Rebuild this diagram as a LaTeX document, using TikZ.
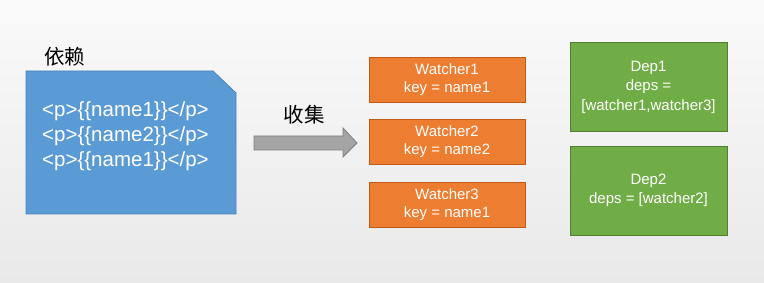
\documentclass[tikz,border=0pt]{standalone}
\usepackage{fontspec}
\setmainfont{Liberation Sans}
\newfontfamily\cjk{Noto Sans CJK SC}
\begin{document}
\begin{tikzpicture}[x=1pt,y=-1pt,
  watcherbox/.style={draw={rgb,255:red,192;green,90;blue,24},fill={rgb,255:red,237;green,125;blue,49},line width=0.8pt,
    minimum width=156pt,minimum height=45pt,inner sep=0pt,text=white,align=center,
    font=\fontsize{15}{18}\selectfont},
  depbox/.style={draw={rgb,255:red,80;green,126;blue,50},fill={rgb,255:red,112;green,173;blue,71},line width=0.8pt,
    minimum width=157pt,minimum height=89pt,inner sep=0pt,text=white,align=center,
    font=\fontsize{15}{19.5}\selectfont},
  cjklabel/.style={font=\cjk\fontsize{20.5}{20.5}\selectfont,text=black,inner sep=0pt}]
\shade[top color={rgb,255:red,250;green,250;blue,250},bottom color={rgb,255:red,233;green,233;blue,233}]
  (0,0) rectangle (764,283);
\useasboundingbox (0,0) rectangle (764,283);
% template block
\draw[draw={rgb,255:red,75;green,130;blue,185},fill={rgb,255:red,91;green,155;blue,213},line width=0.8pt]
  (26,71) -- (213,71) -- (236,93) -- (236,214) -- (26,214) -- cycle;
\node[cjklabel] (dep) at (65,57) {依赖};
\node[anchor=west,align=left,text=white,inner sep=0pt,font=\fontsize{20.5}{25}\selectfont] (tpl) at (42,136)
  {<p>\{\{name1\}\}</p>\\<p>\{\{name2\}\}</p>\\<p>\{\{name1\}\}</p>};
% collect arrow
\node[cjklabel] (collect) at (304,115) {收集};
\draw[draw={rgb,255:red,127;green,127;blue,127},fill={rgb,255:red,165;green,165;blue,165},line width=0.8pt]
  (254,136) -- (343,136) -- (343,128) -- (357,143) -- (343,157) -- (343,150) -- (254,150) -- cycle;
% watchers
\node[watcherbox] (w1) at (447,80) {Watcher1\\key = name1};
\node[watcherbox] (w2) at (447,141.5) {Watcher2\\key = name2};
\node[watcherbox] (w3) at (447,204.5) {Watcher3\\key = name1};
% deps
\node[depbox] (d1) at (648.5,87) {Dep1\\deps =\\{}[watcher1,watcher3]};
\node[depbox] (d2) at (648.5,190.5) {Dep2\\deps = [watcher2]};
\end{tikzpicture}
\end{document}
